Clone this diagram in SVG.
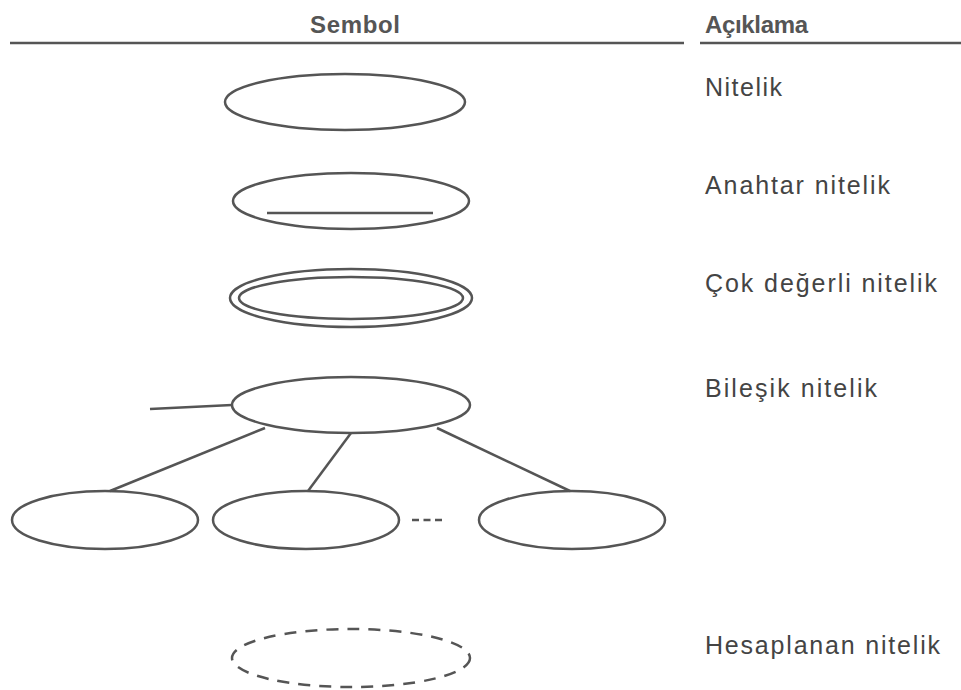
<svg xmlns="http://www.w3.org/2000/svg" width="961" height="690" viewBox="0 0 961 690">
<style>
.s{fill:none;stroke:#555;stroke-width:2.5}
.t{font-family:"Liberation Sans",Arial,sans-serif;font-size:25px;fill:#444}
.h{font-family:"Liberation Sans",Arial,sans-serif;font-size:24px;font-weight:bold;fill:#555}
</style>
<rect width="961" height="690" fill="#fff"/>
<g id="header">
<text class="h" x="310" y="33" textLength="90">Sembol</text>
<text class="h" x="705" y="33" textLength="103">Açıklama</text>
<line class="s" x1="10" y1="43" x2="684" y2="43" stroke-width="3"/>
<line class="s" x1="700" y1="43" x2="961" y2="43" stroke-width="3"/>
</g>
<g id="nitelik">
<ellipse class="s" cx="345" cy="102" rx="120" ry="28"/>
<text class="t" x="705" y="96" textLength="77">Nitelik</text>
</g>
<g id="anahtar">
<ellipse class="s" cx="351" cy="201" rx="118" ry="28"/>
<line class="s" x1="267" y1="213" x2="433" y2="213"/>
<text class="t" x="705" y="194" textLength="185">Anahtar nitelik</text>
</g>
<g id="cok">
<ellipse class="s" cx="351" cy="298" rx="121" ry="29"/>
<ellipse class="s" cx="351" cy="298" rx="112" ry="21"/>
<text class="t" x="705" y="292" textLength="232">Çok değerli nitelik</text>
</g>
<g id="bilesik">
<ellipse class="s" cx="351" cy="405" rx="119" ry="28"/>
<text class="t" x="705" y="397" textLength="172">Bileşik nitelik</text>
</g>
<g id="alt1"><ellipse class="s" cx="105" cy="520" rx="93" ry="29"/></g>
<g id="alt2"><ellipse class="s" cx="306" cy="520" rx="93" ry="29"/></g>
<g id="alt3"><ellipse class="s" cx="572" cy="520" rx="93" ry="29"/></g>
<g id="dots"><line class="s" x1="412" y1="520" x2="442" y2="520" stroke-dasharray="7,4.5" stroke-width="3.5"/></g>
<g id="connectors">
<line class="s" x1="150" y1="409" x2="232" y2="405"/>
<line class="s" x1="265" y1="428" x2="110" y2="491"/>
<line class="s" x1="351" y1="433" x2="308" y2="491"/>
<line class="s" x1="437" y1="428" x2="570" y2="491"/>
</g>
<g id="hesaplanan">
<ellipse class="s" cx="351" cy="658" rx="119" ry="29" stroke-dasharray="12,9" stroke-width="3"/>
<text class="t" x="705" y="654" textLength="235">Hesaplanan nitelik</text>
</g>
</svg>
